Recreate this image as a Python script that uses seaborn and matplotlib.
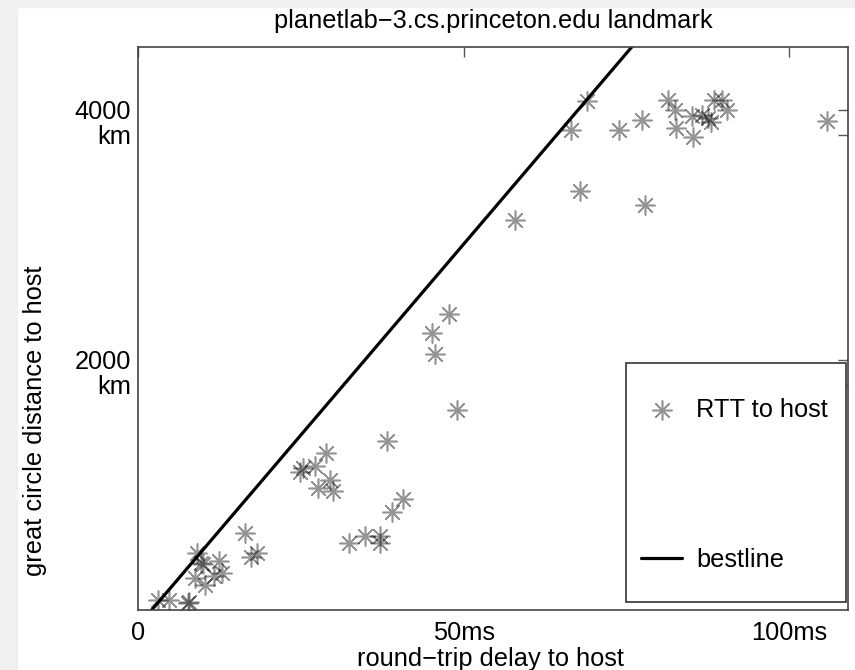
import matplotlib
matplotlib.use("Agg")
import matplotlib.pyplot as plt
from matplotlib.patches import Rectangle
import seaborn as sns
import pandas as pd

# ---- data ----
rtt_ms = [68.9, 66.5, 73.9, 77.4, 81.4, 82.5, 85.0, 86.6, 82.6, 85.2, 88.5, 89.7,
          90.5, 87.5, 88.0, 105.7, 67.9, 77.9, 57.9, 47.7, 45.2, 45.6, 49.0,
          38.3, 28.8, 27.1, 25.3, 24.9, 29.5, 27.6, 30.0, 40.7, 39.0, 34.9, 37.2,
          37.2, 32.4,
          16.5, 18.3, 17.4, 9.0, 9.7, 10.0, 12.5, 12.9, 11.6, 8.8, 10.3, 4.7, 3.1,
          7.7, 7.9]
dist_km = [4072, 3838, 3838, 3918, 4077, 3998, 3952, 3960, 3854, 3784, 4077, 4077,
           4000, 3934, 3899, 3907, 3353, 3239, 3119, 2363, 2217, 2044, 1597,
           1352, 1256, 1150, 1131, 1104, 1038, 976, 950, 884, 785, 593, 593,
           537, 537,
           617, 453, 426, 453, 378, 370, 391, 293, 271, 253, 200, 80, 80,
           53, 60]
bestline_ms = [2.1, 75.8]
bestline_km = [0, 4500]

x_ticks = [0, 50, 100]
x_ticklabels = ["0", "50ms", "100ms"]
y_ticks = [1800, 2000, 3800, 4000]
y_ticklabels = ["km", "2000", "km", "4000"]

title = "planetlab\u22123.cs.princeton.edu landmark"
xlabel = "round\u2212trip delay to host"
ylabel = "great circle distance to host"

pts = pd.DataFrame({"rtt": rtt_ms, "dist": dist_km})
line = pd.DataFrame({"rtt": bestline_ms, "dist": bestline_km})

sns.set_theme(style="white")
plt.rcParams["font.family"] = ["Liberation Sans", "DejaVu Sans"]
plt.rcParams["text.color"] = "black"
plt.rcParams["axes.labelcolor"] = "black"
FS = 18.3

W, H = 855, 670
fig = plt.figure(figsize=(W / 100, H / 100), dpi=100)
fig.patch.set_facecolor("white")
# light grey screen-capture border (left and top)
fig.patches.append(Rectangle((0, 0), 17 / W, 1, transform=fig.transFigure,
                             color="#f0f0f0", zorder=-10))
fig.patches.append(Rectangle((0, 1 - 7 / H), 1, 7 / H, transform=fig.transFigure,
                             color="#f0f0f0", zorder=-10))

AX_L, AX_R, AX_T, AX_B = 138, 848, 47, 610
AW, AH = AX_R - AX_L, AX_B - AX_T
ax = fig.add_axes([AX_L / W, (H - AX_B) / H, AW / W, AH / H])


def axx(px):
    return (px - AX_L) / AW


def axy(py):
    return (AX_B - py) / AH


sns.scatterplot(data=pts, x="rtt", y="dist", ax=ax, marker=(8, 2, 0), s=190,
                color="black", alpha=0.42, linewidth=1.15, label="RTT to host")
sns.lineplot(data=line, x="rtt", y="dist", ax=ax, color="black", linewidth=2.3,
             label="bestline")

ax.set_xlim(0, 109)
ax.set_ylim(0, 4500)
ax.set_xticks(x_ticks)
ax.set_xticklabels(x_ticklabels)
ax.set_yticks(y_ticks)
ax.set_yticklabels(y_ticklabels)
ax.tick_params(axis="both", direction="in", length=7, width=1, color="#555555",
               labelsize=FS, labelcolor="black", top=True, right=True)
ax.tick_params(axis="x", pad=8)
ax.tick_params(axis="y", pad=5)
for sp in ax.spines.values():
    sp.set_color("#444444")
    sp.set_linewidth(1.2)

ax.set_title(title, fontsize=FS, pad=14, color="black")
ax.set_xlabel(xlabel, fontsize=FS, color="black")
ax.set_ylabel(ylabel, fontsize=FS, color="black")
ax.yaxis.set_label_coords(-0.128, 0.337)
ax.xaxis.set_label_coords(0.496, -0.066)

# legend frame (drawn as its own box) and legend entries
ax.add_patch(Rectangle((axx(626), axy(602)), axx(846) - axx(626), axy(363) - axy(602),
                       transform=ax.transAxes, facecolor="white", edgecolor="#333333",
                       linewidth=1.2, zorder=5, clip_on=False))
leg = ax.legend(loc="upper left", bbox_to_anchor=(axx(641), axy(398)),
                fontsize=FS, frameon=False, borderpad=0,
                handlelength=1.63, handletextpad=0.55,
                labelspacing=4.95, borderaxespad=0, scatterpoints=1,
                labelcolor="black")
leg.set_zorder(6)

fig.savefig("out.png", dpi=100)
